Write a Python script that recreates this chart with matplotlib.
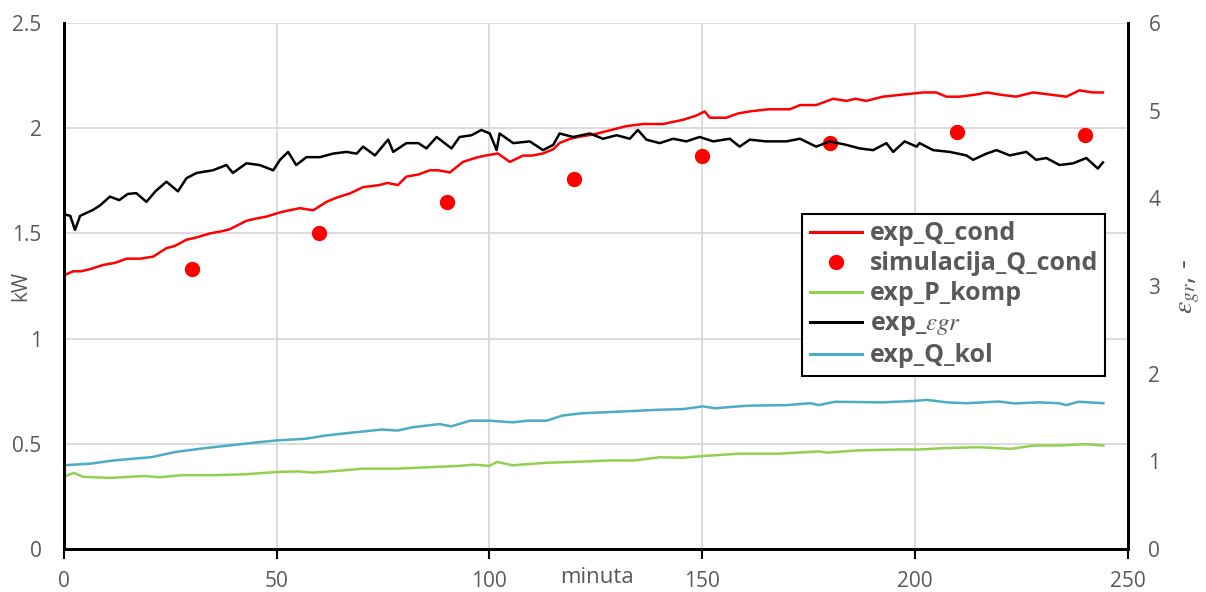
import matplotlib
matplotlib.use("Agg")
import matplotlib.pyplot as plt
from matplotlib.lines import Line2D

# exp_Q_cond [kW]
t_cond = [0, 1, 2.2, 4, 6.1, 9.2, 12, 14.7, 18, 21, 24.1, 26, 28.8, 31, 34.3,
          37, 39, 42.9, 45, 47.6, 50.8, 53, 55.5, 58.6, 61.7, 64.1, 67.2, 70.3, 74.2, 76,
          78.5, 80.5, 83.3, 86, 88, 90.7, 93.8, 96.9, 99, 102, 104.8, 107.9, 110, 112.6, 115,
          116.5, 119, 121.2, 124.4, 128.3, 132.2, 136.1, 140.8, 145.5, 148.6, 150.6, 151.8,
          155.7, 158.4, 161.2, 165.5, 168, 170.6, 173, 176.8, 180.8, 183.9, 186, 188.6, 192.5,
          197.2, 201.9, 205, 207.4, 210.5, 214.4, 217, 219.9, 223.8, 227.8, 231.7, 235.6,
          238.7, 241.8, 244.2]
q_cond = [1.30, 1.31, 1.32, 1.32, 1.33, 1.35, 1.36, 1.38, 1.38, 1.39, 1.43, 1.44, 1.47, 1.48, 1.50,
          1.51, 1.52, 1.56, 1.57, 1.58, 1.60, 1.61, 1.62, 1.61, 1.65, 1.67, 1.69, 1.72, 1.73, 1.74,
          1.73, 1.77, 1.78, 1.80, 1.80, 1.79, 1.84, 1.86, 1.87, 1.88, 1.84, 1.87, 1.87, 1.88, 1.90,
          1.93, 1.95, 1.96, 1.97, 1.99, 2.01, 2.02, 2.02, 2.04, 2.06, 2.08, 2.05,
          2.05, 2.07, 2.08, 2.09, 2.09, 2.09, 2.11, 2.11, 2.14, 2.13, 2.14, 2.13, 2.15,
          2.16, 2.17, 2.17, 2.15, 2.15, 2.16, 2.17, 2.16, 2.15, 2.17, 2.16, 2.15,
          2.18, 2.17, 2.17]

# simulacija_Q_cond [kW]
t_sim = [30, 60, 90, 120, 150, 180, 210, 240]
q_sim = [1.33, 1.50, 1.65, 1.76, 1.87, 1.93, 1.98, 1.97]

# exp_P_komp [kW]
t_komp = [0, 2.3, 4.5, 10.8, 18.9, 22.5, 27.9, 35.1, 42.3, 50, 55, 58.6, 65.8, 70.3, 78.4,
          83.8, 92.8, 96.4, 100, 101.8, 105.4, 113.5, 119.8, 128.6, 134.2, 139.9, 145.5,
          150.2, 158.6, 168, 177.4, 179.3, 186.8, 196.2, 200.9, 207.5, 215, 222.5, 228.1,
          233.8, 240.3, 244.3]
p_komp = [0.343, 0.362, 0.343, 0.338, 0.347, 0.341, 0.351, 0.351, 0.355, 0.366, 0.369, 0.363,
          0.374, 0.382, 0.382, 0.387, 0.395, 0.401, 0.395, 0.414, 0.398, 0.410, 0.414, 0.421,
          0.421, 0.436, 0.434, 0.442, 0.453, 0.453, 0.464, 0.458, 0.469, 0.473, 0.473, 0.480,
          0.484, 0.476, 0.492, 0.492, 0.498, 0.492]

# exp_Q_kol [kW]
t_kol = [0, 6.3, 11.7, 20.7, 26.1, 33.3, 38.7, 45.9, 50, 56.8, 61.3, 68.5, 74.8, 78.4, 82,
         88.3, 91, 95.5, 100, 105.4, 109, 113.5, 117.1, 121.6, 130.5, 139.9, 145.5, 150.2,
         153, 160.5, 169.9, 175.5, 177.4, 181.2, 192.4, 200, 202.8, 207.5, 212.2, 219.7,
         223.4, 229.1, 233.8, 235.6, 238.5, 244.3]
q_kol = [0.398, 0.406, 0.421, 0.437, 0.461, 0.480, 0.492, 0.508, 0.516, 0.524, 0.539, 0.555,
         0.568, 0.563, 0.579, 0.594, 0.583, 0.610, 0.610, 0.602, 0.610, 0.610, 0.634, 0.645,
         0.653, 0.662, 0.665, 0.678, 0.669, 0.681, 0.684, 0.693, 0.684, 0.700, 0.697, 0.704,
         0.709, 0.697, 0.693, 0.701, 0.692, 0.697, 0.693, 0.684, 0.700, 0.693]

# exp_eps_gr [-]
t_eps = [0, 1.5, 2.6, 3.8, 6.9, 8.5, 10.8, 13, 15, 17, 19.4, 21.5, 24.1, 26.8, 28.8, 31.2,
         35, 38.2, 39.7, 42.9, 46, 49.2, 50.8, 52.7, 54.6, 57, 60.2, 63.2, 66.4, 68.8, 70.3,
         73.1, 76.2, 77.4, 80.5, 83.3, 85.2, 87.6, 91.1, 93, 95.8, 98.1, 100.1, 101.7, 102.4,
         105.6, 109.5, 112.6, 115, 116.5, 119.7, 123.6, 126.7, 129.9, 133, 134.9, 136.9, 140,
         143.2, 146.3, 149.4, 152.6, 156.5, 158.8, 161.2, 165, 169.8, 173, 176.8, 180, 183.9,
         187, 190.2, 193.3, 194.9, 197.6, 200.4, 201.1, 204.3, 208.2, 212.1, 213.7, 216.8,
         219.2, 222.3, 226.2, 228.5, 230.9, 234, 237.2, 240.3, 243, 244.2]
eps = [3.82, 3.80, 3.64, 3.80, 3.87, 3.92, 4.02, 3.98, 4.05, 4.06, 3.96, 4.08, 4.19, 4.08, 4.23,
       4.29, 4.32, 4.38, 4.29, 4.40, 4.38, 4.32, 4.44, 4.53, 4.38, 4.47, 4.47, 4.51, 4.53, 4.51,
       4.59, 4.49, 4.67, 4.53, 4.63, 4.63, 4.57, 4.70, 4.57, 4.70, 4.72, 4.78, 4.74, 4.55, 4.74,
       4.63, 4.65, 4.55, 4.61, 4.74, 4.70, 4.74, 4.68, 4.72, 4.68, 4.78, 4.67, 4.63, 4.68, 4.65,
       4.70, 4.65, 4.68, 4.59, 4.67, 4.65, 4.65, 4.68, 4.59, 4.65, 4.61, 4.57, 4.55, 4.63, 4.53,
       4.65, 4.59, 4.63, 4.55, 4.53, 4.49, 4.44, 4.51, 4.55, 4.49, 4.53, 4.44, 4.46, 4.38, 4.40,
       4.46, 4.34, 4.41]

RED = '#ff0000'
GREEN = '#92d050'
BLUE = '#4bacc6'
GRAY = '#595959'

plt.rcParams['font.family'] = ['Open Sans', 'DejaVu Sans']
plt.rcParams['mathtext.fontset'] = 'stix'

fig = plt.figure(figsize=(12.06, 5.92), dpi=100)
ax = fig.add_axes([0.053, 0.0726, 0.882, 0.8885])
ax2 = ax.twinx()

lw = 1.8
ax.plot(t_cond, q_cond, color=RED, lw=lw, zorder=3)
ax.plot(t_sim, q_sim, 'o', color=RED, ms=10, zorder=4)
ax.plot(t_komp, p_komp, color=GREEN, lw=lw, zorder=3)
ax.plot(t_kol, q_kol, color=BLUE, lw=lw, zorder=3)
ax2.plot(t_eps, eps, color='black', lw=lw, zorder=3)

ax.set_xlim(0, 250)
ax.set_ylim(0, 2.5)
ax2.set_ylim(0, 6)
ax.set_xticks(range(0, 251, 50))
ax.set_yticks([0, 0.5, 1, 1.5, 2, 2.5])
ax.set_yticklabels(['0', '0.5', '1', '1.5', '2', '2.5'])
ax2.set_yticks(range(0, 7))

ax.grid(True, color='#d9d9d9', lw=1.3, zorder=0)
ax.set_axisbelow(True)

for a in (ax, ax2):
    a.spines['top'].set_visible(False)
    for s in ('left', 'right', 'bottom'):
        a.spines[s].set_linewidth(2)
        a.spines[s].set_color('black')
ax.tick_params(axis='x', length=7, width=1.5, color='black', labelcolor=GRAY,
               labelsize=15, pad=9)
ax.tick_params(axis='y', length=0, labelcolor=GRAY, labelsize=15, pad=16)
ax2.tick_params(axis='y', length=0, labelcolor=GRAY, labelsize=15, pad=15)

ax.set_ylabel('kW', color=GRAY, fontsize=15)
ax.yaxis.set_label_coords(-0.031, 0.5)
ax2.set_ylabel(r'$\varepsilon_{gr}$, -', color=GRAY, fontsize=20)
ax2.yaxis.set_label_coords(1.044, 0.5)
ax.text(0.501, -0.055, 'minuta', transform=ax.transAxes, ha='center', va='center',
        color=GRAY, fontsize=16)

handles = [
    Line2D([], [], color=RED, lw=2.2),
    Line2D([], [], ls='none', marker='o', color=RED, ms=10),
    Line2D([], [], color=GREEN, lw=2.2),
    Line2D([], [], color='black', lw=2.2),
    Line2D([], [], color=BLUE, lw=2.2),
]
labels = ['exp_Q_cond', 'simulacija_Q_cond', 'exp_P_komp', r'exp_$\varepsilon gr$', 'exp_Q_kol']
leg = ax2.legend(handles, labels, loc='upper left', bbox_to_anchor=(0.694, 0.637),
                 borderaxespad=0, fancybox=False, framealpha=1, edgecolor='black',
                 prop={'weight': 'bold', 'size': 18}, labelcolor=GRAY,
                 handlelength=2.1, handletextpad=0.3, labelspacing=0.2,
                 borderpad=0.3)
leg.get_frame().set_linewidth(1.5)

fig.savefig('out.png', dpi=100)
